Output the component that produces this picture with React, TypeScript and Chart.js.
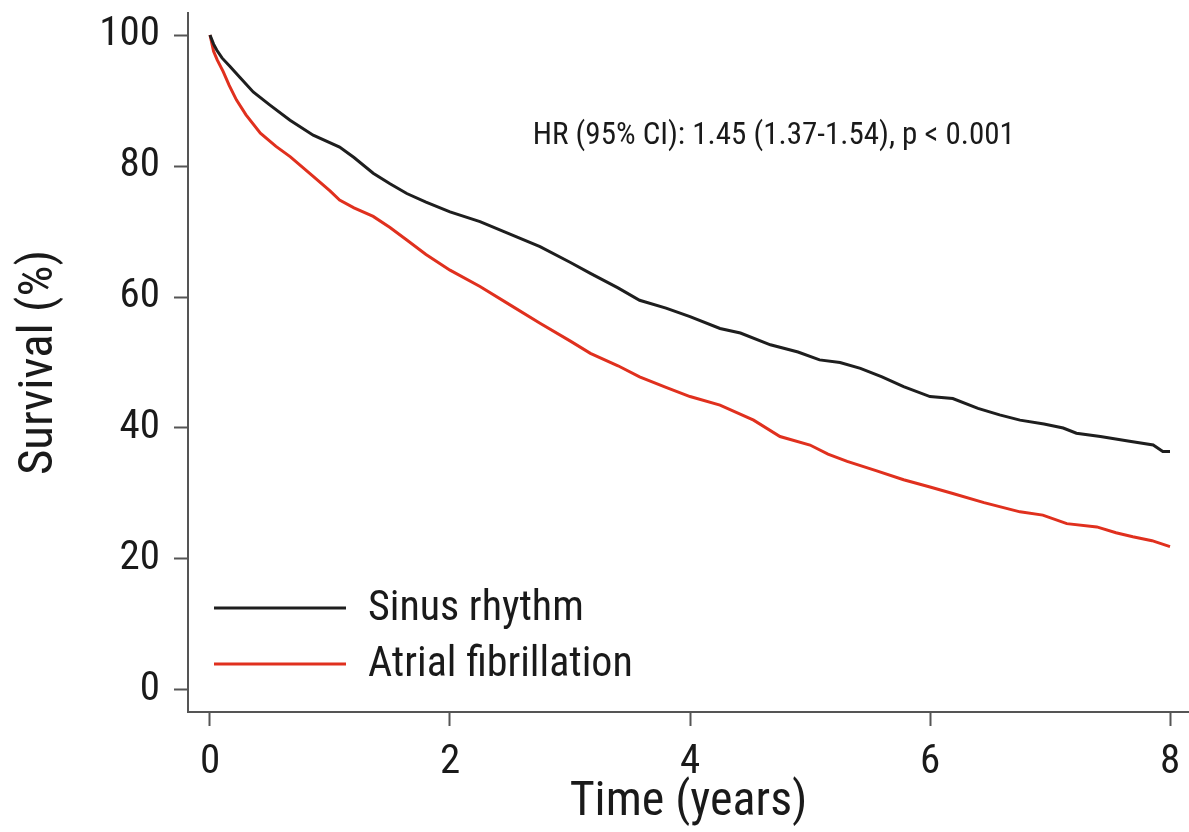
import React, { useEffect, useRef } from "react";
import { Chart, registerables } from "chart.js";

Chart.register(...registerables);

const FONT = '"Roboto Condensed", "Liberation Sans Narrow", "Arial Narrow", Roboto, sans-serif';

const seriesLabels = ["Sinus rhythm", "Atrial fibrillation"];
const seriesColors = ["#1e1e1e", "#e0301e"];

const xTicks = [0, 2, 4, 6, 8];
const yTicks = [0, 20, 40, 60, 80, 100];

const sinusTime = [0, 0.03, 0.056, 0.1, 0.167, 0.25, 0.36, 0.5, 0.667, 0.86, 1.08, 1.2, 1.36, 1.5, 1.64, 1.8, 2.0, 2.25, 2.5, 2.75, 3.0, 3.17, 3.4, 3.58, 3.8, 4.0, 4.25, 4.42, 4.67, 4.9, 5.08, 5.25, 5.42, 5.6, 5.78, 6.0, 6.19, 6.4, 6.58, 6.75, 6.95, 7.11, 7.22, 7.42, 7.65, 7.86, 7.94, 8.0];
const sinusSurv = [100, 98.6, 97.7, 96.5, 95.2, 93.5, 91.3, 89.3, 87.0, 84.7, 82.9, 81.3, 78.9, 77.3, 75.8, 74.5, 73.0, 71.5, 69.6, 67.7, 65.3, 63.6, 61.4, 59.5, 58.3, 57.0, 55.2, 54.5, 52.7, 51.6, 50.4, 50.0, 49.1, 47.8, 46.3, 44.8, 44.5, 43.0, 42.0, 41.2, 40.6, 40.0, 39.2, 38.7, 38.0, 37.4, 36.4, 36.4];

const afTime = [0, 0.03, 0.06, 0.11, 0.16, 0.22, 0.3, 0.42, 0.55, 0.67, 0.86, 1.0, 1.08, 1.2, 1.36, 1.5, 1.64, 1.8, 2.0, 2.25, 2.5, 2.75, 3.0, 3.17, 3.4, 3.58, 3.8, 4.0, 4.25, 4.53, 4.75, 5.0, 5.15, 5.31, 5.55, 5.78, 6.0, 6.19, 6.45, 6.75, 6.94, 7.14, 7.39, 7.55, 7.69, 7.85, 8.0];
const afSurv = [100, 97.5, 96.2, 94.4, 92.3, 90.1, 87.8, 85.0, 83.0, 81.4, 78.4, 76.2, 74.8, 73.6, 72.3, 70.6, 68.7, 66.5, 64.1, 61.6, 58.8, 56.0, 53.3, 51.4, 49.5, 47.8, 46.2, 44.8, 43.5, 41.2, 38.7, 37.4, 36.0, 34.9, 33.5, 32.1, 31.0, 30.0, 28.6, 27.2, 26.7, 25.4, 24.9, 24.0, 23.4, 22.8, 21.9];

const annotationText = "HR (95% CI): 1.45 (1.37-1.54), p < 0.001";

const AXIS_COLOR = "#555555";
const TEXT_COLOR = "#1a1a1a";

function toPoints(t: number[], v: number[]) {
  return t.map((x, i) => ({ x, y: v[i] }));
}

const overlayPlugin = {
  id: "overlay",
  afterDatasetsDraw(chart: any) {
    const { ctx, chartArea } = chart;
    const xs = chart.scales.x;
    const ys = chart.scales.y;
    ctx.save();
    // annotation
    ctx.fillStyle = TEXT_COLOR;
    ctx.font = `31px ${FONT}`;
    ctx.textAlign = "left";
    ctx.textBaseline = "alphabetic";
    ctx.fillText(annotationText, xs.getPixelForValue(2.69), ys.getPixelForValue(83.3));
    // legend
    const rows = [chartArea.bottom - 104, chartArea.bottom - 48];
    chart.data.datasets.forEach((ds: any, i: number) => {
      const y = rows[i];
      ctx.strokeStyle = ds.borderColor;
      ctx.lineWidth = 3;
      ctx.beginPath();
      ctx.moveTo(chartArea.left + 26, y);
      ctx.lineTo(chartArea.left + 158, y);
      ctx.stroke();
      ctx.fillStyle = TEXT_COLOR;
      ctx.font = `42px ${FONT}`;
      ctx.textBaseline = "middle";
      ctx.fillText(ds.label, chartArea.left + 180, y + 1);
    });
    ctx.restore();
  },
};

export default function App() {
  const ref = useRef<HTMLCanvasElement | null>(null);
  useEffect(() => {
    if (!ref.current) return;
    const chart = new Chart(ref.current, {
      type: "line",
      data: {
        datasets: [
          {
            label: seriesLabels[0],
            data: toPoints(sinusTime, sinusSurv),
            borderColor: seriesColors[0],
            backgroundColor: seriesColors[0],
            borderWidth: 3,
            pointRadius: 0,
            tension: 0,
          },
          {
            label: seriesLabels[1],
            data: toPoints(afTime, afSurv),
            borderColor: seriesColors[1],
            backgroundColor: seriesColors[1],
            borderWidth: 3,
            pointRadius: 0,
            tension: 0,
          },
        ],
      },
      options: {
        animation: false,
        responsive: false,
        layout: { padding: { top: 13, left: 0, right: 0, bottom: 0 } },
        plugins: { legend: { display: false }, tooltip: { enabled: false } },
        scales: {
          x: {
            type: "linear",
            min: -0.1833,
            max: 8.1583,
            afterBuildTicks: (s: any) => {
              s.ticks = xTicks.map((v) => ({ value: v }));
            },
            afterFit: (s: any) => {
              s.height = 120;
              s.paddingLeft = 0;
              s.paddingRight = 0;
            },
            border: { display: true, color: AXIS_COLOR, width: 2 },
            grid: { display: true, drawOnChartArea: false, drawTicks: true, tickLength: 14, tickColor: AXIS_COLOR, tickWidth: 2 },
            ticks: { color: TEXT_COLOR, font: { family: FONT, size: 41 }, padding: 12, maxRotation: 0, autoSkip: false },
            title: { display: true, text: "Time (years)", color: TEXT_COLOR, font: { family: FONT, size: 48 }, padding: { top: 0, bottom: 0 } },
          },
          y: {
            type: "linear",
            min: -3.359,
            max: 103.359,
            afterBuildTicks: (s: any) => {
              s.ticks = yTicks.map((v) => ({ value: v }));
            },
            afterFit: (s: any) => {
              s.width = 188;
              s.paddingTop = 0;
              s.paddingBottom = 0;
            },
            border: { display: true, color: AXIS_COLOR, width: 2 },
            grid: { display: true, drawOnChartArea: false, drawTicks: true, tickLength: 14, tickColor: AXIS_COLOR, tickWidth: 2 },
            ticks: { color: TEXT_COLOR, font: { family: FONT, size: 41 }, padding: 14, autoSkip: false },
            title: { display: true, text: "Survival (%)", color: TEXT_COLOR, font: { family: FONT, size: 49 }, padding: { top: 10, bottom: 0 } },
          },
        },
      },
      plugins: [overlayPlugin],
    });
    return () => chart.destroy();
  }, []);
  return (
    <div style={{ position: "fixed", left: 0, top: 0, width: 1189, height: 832, background: "#fff" }}>
      <canvas ref={ref} width={1189} height={832} style={{ display: "block", width: 1189, height: 832 }} />
    </div>
  );
}
